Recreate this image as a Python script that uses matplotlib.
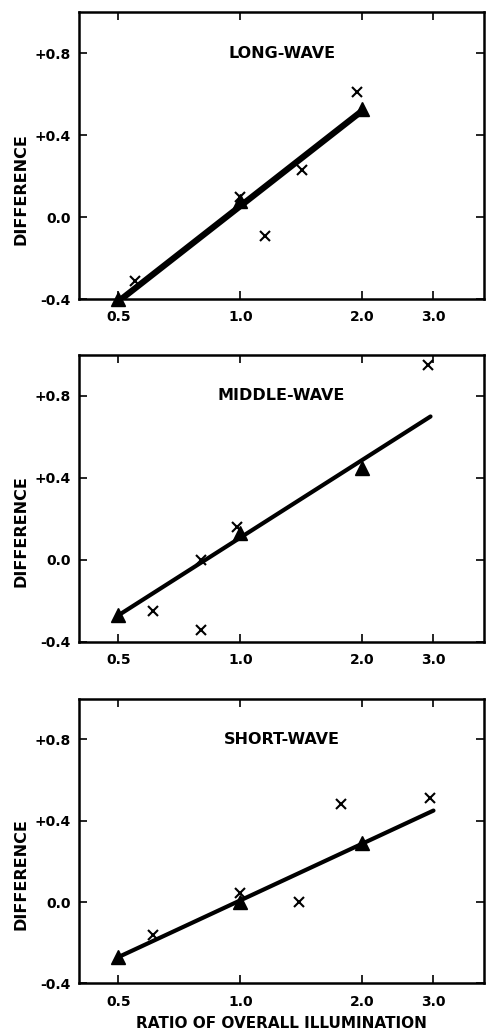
import matplotlib.pyplot as plt
from matplotlib.ticker import FixedLocator, NullLocator

plt.rcParams['font.family'] = ['DejaVu Sans']
plt.rcParams['font.weight'] = 'bold'

# -------- data --------
titles = ['LONG-WAVE', 'MIDDLE-WAVE', 'SHORT-WAVE']

# fitted line end points
line_x = [[0.5, 2.0], [0.5, 2.95], [0.5, 3.0]]
line_y = [[-0.41, 0.52], [-0.27, 0.70], [-0.27, 0.45]]

# triangles (means)
tri_x = [[0.5, 1.0, 2.0], [0.5, 1.0, 2.0], [0.5, 1.0, 2.0]]
tri_y = [[-0.40, 0.08, 0.53], [-0.27, 0.13, 0.45], [-0.27, 0.0, 0.29]]

# crosses (individual)
cross_x = [[0.55, 1.0, 1.15, 1.42, 1.94],
           [0.61, 0.80, 0.80, 0.98, 2.90],
           [0.61, 1.0, 1.40, 1.77, 2.94]]
cross_y = [[-0.31, 0.10, -0.09, 0.23, 0.61],
           [-0.25, 0.0, -0.34, 0.16, 0.95],
           [-0.16, 0.045, 0.0, 0.48, 0.51]]

line_w = [4.5, 3.0, 3.0]

xticks = [0.5, 1.0, 2.0, 3.0]
xtick_labels = ['0.5', '1.0', '2.0', '3.0']
yticks = [-0.4, 0.0, 0.4, 0.8]
ytick_labels = ['-0.4', '0.0', '+0.4', '+0.8']

# axes rectangles in figure fractions
rects = [[0.163, 0.710, 0.833, 0.278],
         [0.163, 0.378, 0.833, 0.278],
         [0.163, 0.047, 0.833, 0.276]]

fig = plt.figure(figsize=(4.86, 10.32), dpi=100)

for i in range(3):
    ax = fig.add_axes(rects[i])
    ax.set_xscale('log')
    ax.set_xlim(0.4, 4.0)
    ax.set_ylim(-0.4, 1.0)

    ax.plot(line_x[i], line_y[i], color='black', lw=line_w[i],
            solid_capstyle='round', zorder=2)
    ax.plot(tri_x[i], tri_y[i], '^', color='black', ms=10, zorder=3,
            clip_on=False)
    ax.plot(cross_x[i], cross_y[i], 'x', color='black', ms=7, mew=1.5,
            zorder=4, clip_on=False)

    ax.xaxis.set_major_locator(FixedLocator(xticks))
    ax.xaxis.set_minor_locator(NullLocator())
    ax.set_xticklabels(xtick_labels)
    ax.set_yticks(yticks)
    ax.set_yticklabels(ytick_labels)
    ax.tick_params(direction='in', length=6, width=1.2, top=True, right=True,
                   labelsize=10)
    ax.tick_params(axis='x', pad=8)
    ax.tick_params(axis='y', pad=6)
    for lab in ax.get_xticklabels() + ax.get_yticklabels():
        lab.set_fontweight('bold')
    for sp in ax.spines.values():
        sp.set_linewidth(1.8)

    # panel title sits at the +0.8 level, centred across the axes
    ax.text(0.5, 0.8, titles[i], transform=ax.get_yaxis_transform(),
            ha='center', va='center', fontsize=11.5, fontweight='bold')
    ax.set_ylabel('DIFFERENCE', fontsize=11.5, fontweight='bold')
    ax.yaxis.set_label_coords(-0.125, 0.385)

ax.set_xlabel('RATIO OF OVERALL ILLUMINATION', fontsize=11,
              fontweight='bold', labelpad=5)

fig.savefig('out.png', dpi=100)
